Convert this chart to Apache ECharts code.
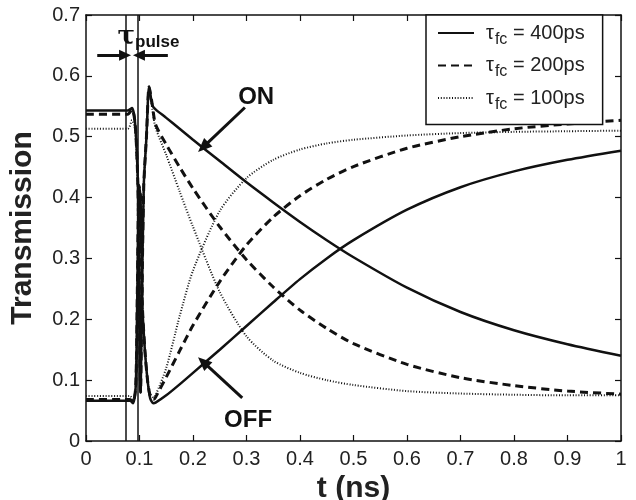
<!DOCTYPE html>
<html>
<head>
<meta charset="utf-8">
<script src="https://cdn.jsdelivr.net/npm/echarts@6/dist/echarts.min.js"></script>
<style>
  html, body { margin: 0; padding: 0; background: #fff; }
  #chart-panel { width: 636px; height: 500px; }
</style>
</head>
<body>
<div id="chart-panel"></div>
<script>
// pulse region (ON curves and OFF curves have their own time samples)
var tHeadOn  = [0, 0.078, 0.086, 0.092, 0.097, 0.100, 0.102, 0.104, 0.108, 0.113, 0.118, 0.124];
var on400Head = [0.543, 0.543, 0.547, 0.52, 0.42, 0.20, 0.08, 0.20, 0.42, 0.50, 0.582, 0.552];
var on200Head = [0.537, 0.537, 0.545, 0.52, 0.42, 0.20, 0.08, 0.20, 0.42, 0.50, 0.582, 0.552];
var on100Head = [0.513, 0.513, 0.527, 0.51, 0.41, 0.20, 0.08, 0.20, 0.42, 0.50, 0.580, 0.545];

var tHeadOff  = [0, 0.082, 0.088, 0.093, 0.096, 0.099, 0.102, 0.105, 0.110, 0.115, 0.120, 0.126];
var off400Head = [0.066, 0.066, 0.062, 0.09, 0.25, 0.42, 0.40, 0.23, 0.15, 0.10, 0.070, 0.062];
var off200Head = [0.068, 0.068, 0.064, 0.09, 0.25, 0.42, 0.40, 0.23, 0.15, 0.10, 0.074, 0.068];
var off100Head = [0.074, 0.074, 0.068, 0.09, 0.25, 0.42, 0.40, 0.23, 0.15, 0.10, 0.078, 0.072];

// after the pulse
var tTail = [0.13, 0.15, 0.175, 0.2, 0.25, 0.3, 0.35, 0.4, 0.45, 0.5, 0.6, 0.7, 0.8, 0.9, 1.0];
var on400Tail  = [0.545, 0.531, 0.513, 0.495, 0.46, 0.425, 0.392, 0.36, 0.33, 0.302, 0.252, 0.212, 0.182, 0.159, 0.14];
var on200Tail  = [0.52, 0.487, 0.45, 0.415, 0.352, 0.298, 0.253, 0.215, 0.185, 0.16, 0.126, 0.104, 0.091, 0.082, 0.077];
var on100Tail  = [0.515, 0.47, 0.41, 0.352, 0.245, 0.172, 0.132, 0.112, 0.1, 0.092, 0.082, 0.078, 0.076, 0.075, 0.075];
var off400Tail = [0.063, 0.075, 0.093, 0.112, 0.15, 0.189, 0.228, 0.266, 0.3, 0.33, 0.38, 0.417, 0.443, 0.462, 0.477];
var off200Tail = [0.072, 0.105, 0.148, 0.19, 0.262, 0.322, 0.368, 0.403, 0.43, 0.451, 0.481, 0.5, 0.513, 0.521, 0.527];
var off100Tail = [0.075, 0.12, 0.205, 0.28, 0.378, 0.432, 0.462, 0.479, 0.489, 0.495, 0.502, 0.506, 0.508, 0.509, 0.51];

var tauNames = ['400ps', '200ps', '100ps'];
var pulseEdges = [0.075, 0.097];
var xTicks = { min: 0, max: 1, interval: 0.1 };
var yTicks = { min: 0, max: 0.7, interval: 0.1 };

var font = 'Liberation Sans, Arial, sans-serif';
var ink = '#111';

function pairs(ts, vs) {
    return ts.map(function (t, i) { return [t, vs[i]]; });
}

var styles = [
    { width: 2.5, type: 'solid' },
    { width: 3, type: [8, 5] },
    { width: 2, type: [1, 1.8] }
];
var onSets = [[on400Head, on400Tail], [on200Head, on200Tail], [on100Head, on100Tail]];
var offSets = [[off400Head, off400Tail], [off200Head, off200Tail], [off100Head, off100Tail]];

var series = [];
for (var i = 0; i < 3; i++) {
    var base = {
        name: tauNames[i],
        type: 'line',
        symbol: 'none',
        smooth: 0.25,
        lineStyle: { color: ink, width: styles[i].width, type: styles[i].type },
        itemStyle: { color: ink },
        emphasis: { disabled: true },
        z: 3
    };
    var on = Object.assign({}, base, {
        data: pairs(tHeadOn, onSets[i][0]).concat(pairs(tTail, onSets[i][1]))
    });
    var off = Object.assign({}, base, {
        data: pairs(tHeadOff, offSets[i][0]).concat(pairs(tTail, offSets[i][1]))
    });
    series.push(on, off);
}

// pulse edges + annotation arrows
series[0].markLine = {
    silent: true,
    animation: false,
    label: { show: false },
    emphasis: { disabled: true },
    data: [
        [{ xAxis: pulseEdges[0], yAxis: 0, symbol: 'none' }, { xAxis: pulseEdges[0], yAxis: 0.7, symbol: 'none' }],
        [{ xAxis: pulseEdges[1], yAxis: 0, symbol: 'none' }, { xAxis: pulseEdges[1], yAxis: 0.7, symbol: 'none' }],
        [{ coord: [0.021, 0.634], symbol: 'none' }, { coord: [0.073, 0.634], symbol: 'triangle', symbolSize: [11, 12] }],
        [{ coord: [0.153, 0.634], symbol: 'none' }, { coord: [0.099, 0.634], symbol: 'triangle', symbolSize: [11, 12] }],
        [{ coord: [0.297, 0.548], symbol: 'none' }, { coord: [0.219, 0.483], symbol: 'triangle', symbolSize: [12, 14] }],
        [{ coord: [0.292, 0.071], symbol: 'none' }, { coord: [0.219, 0.130], symbol: 'triangle', symbolSize: [12, 14] }]
    ].map(function (d, k) {
        d[0].lineStyle = { color: ink, type: 'solid', width: k < 2 ? 1.5 : 3 };
        return d;
    })
};
series[1].markPoint = {
    silent: true,
    animation: false,
    symbol: 'circle',
    symbolSize: 1,
    itemStyle: { color: 'rgba(0,0,0,0)' },
    label: { show: true, color: ink, fontFamily: font, fontWeight: 'bold', fontSize: 24 },
    data: [
        { coord: [0.318, 0.565], label: { formatter: 'ON', position: 'inside' } },
        { coord: [0.303, 0.034], label: { formatter: 'OFF', position: 'inside' } },
        {
            coord: [0.058, 0.663],
            label: {
                position: 'right', distance: 0,
                formatter: '{t|τ}{s|pulse}',
                rich: {
                    t: { fontSize: 26, fontWeight: 'bold', fontFamily: 'DejaVu Serif, serif', color: ink },
                    s: { fontSize: 17, fontWeight: 'bold', fontFamily: font, color: ink, padding: [10, 0, 0, 0] }
                }
            }
        }
    ]
};

var axisCommon = {
    type: 'value',
    splitLine: { show: false },
    axisLine: { show: true, onZero: false, lineStyle: { color: ink, width: 1.5 } },
    axisTick: { show: true, inside: true, length: 6, lineStyle: { color: ink, width: 1.2 } },
    axisLabel: { color: '#222', fontSize: 20, fontFamily: font }
};

option = {
    animation: false,
    backgroundColor: '#fff',
    grid: { left: 86, right: 15, top: 15, bottom: 59, outerBoundsMode: 'none', containLabel: false },
    legend: {
        orient: 'vertical',
        left: 426,
        top: 15,
        padding: [8, 18, 12, 11],
        itemGap: 8,
        itemWidth: 36,
        itemHeight: 14,
        backgroundColor: '#fff',
        borderColor: ink,
        borderWidth: 1.5,
        borderRadius: 0,
        selectedMode: false,
        itemStyle: { opacity: 0 },
        data: tauNames,
        formatter: function (name) {
            return '{g|}{a|τ}{b|fc}{a| = ' + name + '}';
        },
        textStyle: {
            color: '#222',
            rich: {
                g: { width: 7 },
                a: { fontSize: 20, fontFamily: font, color: '#222', lineHeight: 22 },
                b: { fontSize: 16, fontFamily: font, color: '#222', padding: [13, 0, 0, 1] }
            }
        },
        z: 10
    },
    xAxis: [
        Object.assign({}, axisCommon, xTicks, {
            position: 'bottom',
            name: 't (ns)',
            nameLocation: 'middle',
            nameGap: 22,
            nameTextStyle: { fontSize: 30, fontWeight: 'bold', fontFamily: font, color: '#222', verticalAlign: 'top' },
            axisLabel: Object.assign({}, axisCommon.axisLabel, { margin: 8 })
        }),
        Object.assign({}, axisCommon, xTicks, { position: 'top', axisLabel: { show: false } })
    ],
    yAxis: [
        Object.assign({}, axisCommon, yTicks, {
            position: 'left',
            name: 'Transmission',
            nameLocation: 'middle',
            nameGap: 48,
            nameTextStyle: { fontSize: 30, fontWeight: 'bold', fontFamily: font, color: '#222' },
            axisLabel: Object.assign({}, axisCommon.axisLabel, { margin: 6 })
        }),
        Object.assign({}, axisCommon, yTicks, { position: 'right', axisLabel: { show: false } })
    ],
    series: series
};

var myChart = echarts.init(document.getElementById('chart-panel'));
myChart.setOption(option);
</script>
</body>
</html>
